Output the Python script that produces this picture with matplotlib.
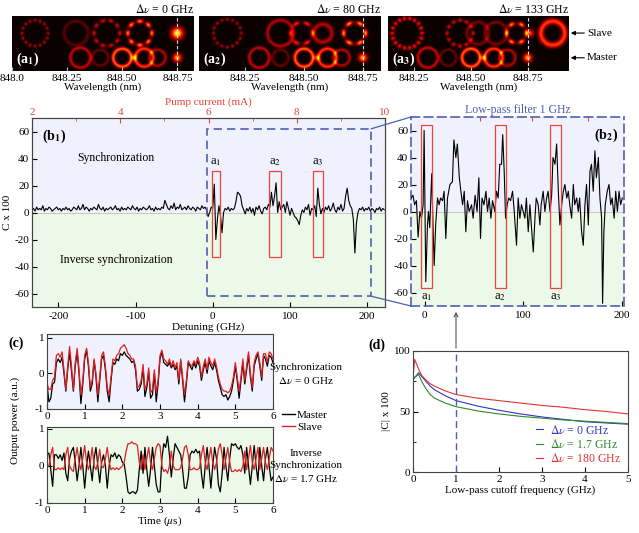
import numpy as np
import matplotlib
matplotlib.use('Agg')
import matplotlib.pyplot as plt
from matplotlib.patches import Rectangle, ConnectionPatch, FancyArrowPatch
from matplotlib.lines import Line2D

plt.rcParams['font.family'] = ['Liberation Serif', 'DejaVu Serif']
plt.rcParams['mathtext.fontset'] = 'stix'
plt.rcParams['font.size'] = 8
plt.rcParams['xtick.direction'] = 'in'
plt.rcParams['ytick.direction'] = 'in'
plt.rcParams['axes.linewidth'] = 0.8
plt.rcParams['axes.edgecolor'] = '#444444'
plt.rcParams['axes.unicode_minus'] = False

LAV = '#f0f1fc'
GRN = '#ecf8e8'
RED = '#e8453c'
BLUE = '#4f5fb0'

# --- (a) mode images: (centre nm, row, radius px, width px, amplitude, lobes)
row_y = {'S': 0.69, 'M': 0.24}
master_modes = [(848.31, 'M', 10, 1.6, 0.45, 0), (848.40, 'M', 8, 1.5, 0.22, 0),
                (848.50, 'M', 9, 1.8, 0.80, 0), (848.555, 'M', 0, 3.0, 0.60, 0),
                (848.60, 'M', 9, 1.8, 0.70, 0), (848.66, 'M', 8, 1.6, 0.40, 0),
                (848.75, 'M', 0, 4.0, 1.00, 0)]
slave_a1 = [(848.104, 'S', 13, 1.6, 0.40, 16), (848.29, 'S', 12, 1.8, 0.18, 0),
            (848.43, 'S', 13, 1.8, 0.50, 10), (848.58, 'S', 12, 2.0, 0.90, 8),
            (848.75, 'S', 0, 5.5, 1.20, 0)]
slave_a2 = [(848.174, 'S', 14, 1.6, 0.40, 16), (848.40, 'S', 13, 1.8, 0.40, 0),
            (848.49, 'S', 11, 1.8, 0.65, 6), (848.58, 'S', 9, 2.2, 0.40, 0),
            (848.715, 'S', 11, 2.0, 0.95, 6)]
slave_a3 = [(848.219, 'S', 15, 2.2, 0.60, 18), (848.452, 'S', 13, 1.8, 0.50, 12),
            (848.53, 'S', 11, 1.8, 0.25, 0), (848.61, 'S', 11, 1.8, 0.25, 0),
            (848.70, 'S', 10, 2.0, 0.90, 6), (848.76, 'S', 0, 3.5, 0.70, 0),
            (848.86, 'S', 12, 2.8, 0.70, 0)]
a_ranges = [(848.0, 848.825), (848.055, 848.826), (848.136, 848.93)]
a_titles = [r'$\Delta\nu$ = 0 GHz', r'$\Delta\nu$ = 80 GHz', r'$\Delta\nu$ = 133 GHz']
a_labels = [r'(a$_\mathbf{1}$)', r'(a$_\mathbf{2}$)', r'(a$_\mathbf{3}$)']
wl_ticks = [848.0, 848.25, 848.5, 848.75]
wl_ticklabels = ['848.0', '848.25', '848.50', '848.75']

# --- (b1) correlation vs detuning, 2 GHz steps from -234 GHz
b1_c = [2, 3, 1, 4, 2, 3, 2, 5, 1, 3, 2, 4, 3, 1, 2, 3, 4, 2, 3, 1,
        3, 2, 4, 2, 3, 1, 2, 4, 3, 2, 5, 2, 3, 6, 2, 4, 3, 1, 3, 2,
        4, 3, 2, 6, 3, 2, 4, 1, 3, 2, 3, 4, 2, 3, 5, 2, 3, 1, 4, 2,
        3, 2, 4, 3, 2, 5, 3, 2, 4, 1, 3, 2, 4, 3, 2, 3, 5, 2, 3, 1,
        4, 2, 3, 2, 4, 3, 9, 6, 3, 2, 5, 3, 7, 2, 4, 3, 6, 2, 3, 4,
        2, 5, 3, 2, 4, 3, 1, 4, 3, 2, 5, 3, 4,
        2, -3, 0, 4, 3, 21, -20, -5, 5, -2, -15, 0, 3, 2, 4, 1, 3, 2, 3, 8,
        15, 14, 12, 5, 2, -1, 3, 1, 4, 0, 3, -2, 4, 2, 5, 1, -1, 3, 4, 2,
        6, 4, 15, 5, 12, 22, 0, 8, 2, 4, 6, 0, 8, 3, -2, 3, 0, -3, -4, -6,
        -9, -2, 2, 0, 4, 2, 6, -2, 3, 2, 5, -3, 18, 6, -1, 3, 0, 4, 2, 5,
        1, 3, 7, 2, 0, 4, 2, 6, 1, 3, 12, 18, 9, 5, 3, -5, -30, -8, 0, 3,
        2, 4, 1, 3, 2, 4, 1, 3, 2, 0, 3, 2, 4, 1, 3, 2]
b1_start = -234
b1_step = 2
b1_boxes = [(-1, 9), (73, 88), (130, 143)]

# --- (b2) low-pass filtered correlation
b2_det = [-14, -12, -10.3, -8.5, -6.8, -5, -3.4, -1.7, -0.7, 1, 2.7, 3.7, 5, 7, 8.5, 9.5,
          11, 12.9, 14.5, 16, 18, 19.6, 21.3, 23, 25.5, 28, 29.5, 31.5, 33, 35, 36.6, 38.3,
          40, 41.6, 43.3, 45, 47.4, 49, 51, 53, 54.8, 56.5, 58, 60, 62, 63.6, 65.3, 67,
          68.7, 71, 72.7, 74.4, 76, 77.8, 79, 80.5, 81.9, 83.6, 85, 87, 89, 90.7, 93, 94.7,
          96.4, 98, 99.8, 101.5, 103, 104.9, 106.6, 108, 110, 111.7, 113, 115, 116.7, 118,
          120, 121.8, 123.5, 125, 127, 128.6, 130, 132, 133.7, 135.4, 137, 138.8, 140.5, 142,
          144, 145.5, 147, 148.9, 150.6, 152, 154, 155.6, 157, 159, 160.7, 162.4, 164, 165.8,
          167.5, 169, 170.8, 172.5, 174, 176, 177.6, 179.3, 180.3, 181.6, 183, 185, 186.8,
          188.5, 190, 192, 193.6, 195.3, 197, 198.6, 200.3]
b2_c = [10, 12, 5, 8, -19, 0, -5, 5, 60, -52, -10, 0, -12, 28, -15, -40,
        -10, 10, 5, 10, 8, 15, -20, 10, 20, 22, 53, 40, 50, 25, 15, 5,
        15, -15, 8, 0, 5, -5, 12, 0, 25, -20, 10, 5, 15, 0, 10, -5,
        8, 0, 15, 10, 35, 35, 57, 30, -5, 5, 10, 8, 15, 0, -25, 10,
        -5, 5, 0, -5, 10, -15, 5, -10, -30, -5, 10, 5, -10, 5,
        15, 0, 10, 15, 0, 12, 40, 35, 50, 15, -10, 5, 15, 20,
        10, 15, 5, -5, 20, 5, 10, 0, 10, -15, -25, 5, 20, -10,
        30, 35, 15, 45, 25, 40, 10, -5, -68, -15, 5, 15, 20,
        5, 10, -5, 15, 0, 15, 5, 10]
b2_boxes = [(-4, 7.5), (71, 82), (127, 138)]

# --- (c) time traces, 0.05 us steps
c_step = 0.05
sync_master = [-0.30, -0.80, -0.70, -0.30, -0.25, 0.30, 0.40, 0.30, 0.45, 0.00,
               -0.50, 0.10, 0.60, 0.05, -0.50, 0.20, 0.60, 0.00, -0.85, -0.30,
               0.40, 0.65, 0.20, -0.50, -0.30, 0.35, -0.10, -0.80, -0.20, 0.40,
               0.50, 0.10, -0.50, -0.80, -0.20, 0.30, 0.25, 0.40, 0.35, 0.55,
               0.50, 0.60, 0.50, 0.45, 0.40, 0.30, 0.35, 0.10, -0.50, -0.45,
               -0.30, 0.15, -0.65, -0.40, 0.05, -0.70, -0.60, 0.00, -0.80, -0.30,
               0.40, 0.60, 0.30, 0.25, 0.20, 0.30, 0.15, 0.25, 0.10, 0.20,
               -0.30, 0.35, -0.20, -0.80, -0.30, 0.30, 0.20, 0.10, 0.30, 0.15,
               0.35, 0.20, -0.20, 0.10, 0.30, 0.00, 0.35, 0.20, 0.10, 0.30,
               0.10, -0.20, -0.40, -0.60, -0.65, -0.60, -0.75, -0.65, -0.50, -0.20,
               0.20, -0.20, -0.70, -0.20, 0.30, -0.30, 0.10, 0.50, -0.10, -0.50,
               0.20, 0.40, 0.55, 0.20, -0.20, 0.50, 0.40, 0.20, 0.50, 0.45, 0.30]
sync_slave = [-0.30, -0.45, -0.45, -0.20, -0.10, 0.50, 0.55, 0.45, 0.60, 0.10,
              -0.45, 0.20, 0.75, 0.20, -0.45, 0.30, 0.70, 0.10, -0.60, -0.20,
              0.50, 0.70, 0.30, -0.40, -0.20, 0.40, 0.00, -0.60, -0.10, 0.50,
              0.60, 0.20, -0.40, -0.60, -0.10, 0.40, 0.35, 0.50, 0.55, 0.70,
              0.75, 0.80, 0.70, 0.55, 0.50, 0.40, 0.40, 0.20, -0.40, -0.35,
              -0.20, 0.25, -0.45, -0.30, 0.15, -0.55, -0.45, 0.10, -0.55, -0.20,
              0.50, 0.65, 0.40, 0.35, 0.25, 0.40, 0.20, 0.35, 0.15, 0.30,
              -0.20, 0.40, -0.10, -0.60, -0.20, 0.35, 0.25, 0.20, 0.35, 0.25,
              0.45, 0.30, -0.10, 0.20, 0.40, 0.10, 0.45, 0.30, 0.20, 0.40,
              0.20, -0.10, -0.30, -0.45, -0.50, -0.50, -0.55, -0.50, -0.35, -0.10,
              0.30, -0.10, -0.50, -0.10, 0.40, -0.20, 0.20, 0.60, 0.00, -0.40,
              0.30, 0.50, 0.60, 0.30, -0.10, 0.55, 0.55, 0.30, 0.60, 0.55, 0.40]
inv_master = [0.30, 0.35, -0.10, -0.55, 0.30, 0.30, 0.20, 0.30, 0.15, 0.35,
              -0.20, -0.40, 0.20, 0.40, 0.50, 0.10, -0.40, 0.00, 0.50, 0.00,
              -0.60, 0.00, 0.40, 0.00, -0.40, 0.20, 0.50, 0.00, -0.45, 0.10,
              0.30, 0.00, -0.60, 0.00, 0.30, 0.25, 0.35, 0.20, 0.30, 0.25,
              0.10, 0.05, -0.30, -0.70, -0.75, -0.70, -0.70, -0.75, -0.65, -0.10,
              0.40, -0.20, 0.50, -0.10, -0.55, -0.10, 0.50, 0.00, -0.50, -0.70,
              -0.70, 0.20, 0.60, 0.50, 0.80, 0.30, -0.30, 0.20, 0.60, 0.50,
              0.40, 0.30, -0.10, -0.60, -0.60, -0.30, 0.30, 0.40, 0.35, 0.45,
              0.35, 0.40, -0.20, -0.60, 0.00, 0.50, 0.00, -0.60, 0.00, 0.50,
              0.20, -0.50, -0.70, -0.20, 0.50, 0.00, -0.40, 0.20, 0.60, 0.55,
              0.60, 0.50, 0.45, 0.55, 0.30, -0.20, 0.50, 0.00, -0.50, 0.00,
              0.55, 0.00, -0.40, 0.50, 0.00, -0.40, 0.20, 0.50, 0.00, -0.40, -0.30]
inv_slave = [0.00, 0.00, 0.30, 0.50, -0.10, -0.10, -0.05, -0.10, -0.05, -0.10,
             0.30, 0.50, 0.00, -0.10, -0.15, 0.20, 0.50, 0.10, -0.10, 0.20,
             0.55, 0.10, -0.10, 0.10, 0.50, 0.00, -0.10, 0.10, 0.45, 0.00,
             -0.05, 0.20, 0.50, 0.10, -0.10, -0.05, -0.10, -0.05, -0.10, -0.05,
             0.00, 0.10, 0.40, 0.60, 0.60, 0.65, 0.60, 0.60, 0.55, 0.10,
             -0.10, 0.30, -0.10, 0.20, 0.50, 0.10, -0.10, 0.20, 0.50, 0.60,
             0.55, 0.00, -0.15, -0.10, -0.20, 0.00, 0.40, 0.00, -0.10, -0.10,
             -0.10, -0.05, 0.20, 0.50, 0.55, 0.30, -0.10, -0.10, -0.05, -0.10,
             -0.10, -0.05, 0.30, 0.55, 0.10, -0.10, 0.20, 0.50, 0.10, -0.10,
             0.10, 0.45, 0.60, 0.30, -0.10, 0.20, 0.50, 0.10, -0.15, -0.15,
             -0.10, -0.15, -0.10, -0.15, 0.00, 0.40, -0.10, 0.20, 0.55, 0.10,
             -0.10, 0.20, 0.50, -0.10, 0.20, 0.50, 0.10, -0.10, 0.20, 0.50, 0.40]

# --- (d) |C| vs low-pass cutoff
d_f = [0, 0.04, 0.13, 0.2, 0.3, 0.4, 0.5, 0.75, 1, 1.5, 2, 2.5, 3, 3.5, 4, 4.5, 5]
d_blue = [76, 78, 82, 79, 75, 71, 68, 63, 59, 54.5, 51, 48, 45.5, 43.5, 41.5, 40.5, 39.5]
d_green = [77, 78.5, 80.5, 75, 69, 64, 61, 57, 54, 50.5, 48, 46, 44.5, 43, 42, 41, 40]
d_red = [78, 93, 85, 80, 76, 73, 71, 67, 64, 61, 59, 57, 55, 53.5, 51.5, 50, 48]
d_labels = [r'$\Delta\nu$ = 0 GHz', r'$\Delta\nu$ = 1.7 GHz', r'$\Delta\nu$ = 180 GHz']
d_colors = ['#3434c8', '#2e8b2e', '#e03434']

W, H = 639, 533


def px_rect(l, t, r, b):
    return [l / W, 1 - b / H, (r - l) / W, (b - t) / H]


fig = plt.figure(figsize=(6.39, 5.33), dpi=100)


# ---------------- (a) mode images
def mode_image(features, lam0, lam1):
    lam = np.linspace(lam0, lam1, 364)
    yy = np.linspace(0, 1, 110)
    L, Y = np.meshgrid(lam, yy)
    nm_px = (lam1 - lam0) / 182
    img = np.zeros_like(L)
    for c, row, r, w, amp, lobes in features:
        dx = (L - c) / nm_px
        dy = (Y - row_y[row]) * 55
        rr = np.hypot(dx, dy)
        part = amp * np.exp(-((rr - r) / w) ** 2)
        if lobes:
            th = np.arctan2(dy, dx)
            part *= 0.15 + 0.85 * np.cos(lobes * th / 2) ** 2
        img += part
    return img


a_px = [(12, 194), (199, 381), (388, 569)]
slaves = [slave_a1, slave_a2, slave_a3]
a_axes = []
for i in range(3):
    l, r = a_px[i]
    ax = fig.add_axes(px_rect(l, 16, r, 71))
    lam0, lam1 = a_ranges[i]
    img = mode_image(slaves[i] + master_modes, lam0, lam1)
    ax.imshow(img, origin='lower', extent=[lam0, lam1, 0, 1], aspect='auto',
              cmap='hot', vmin=0, vmax=1.5, interpolation='bilinear')
    ax.axvline(848.75, color='#dddddd', lw=0.8, ls=(0, (3, 2)))
    ticks = [t for t in wl_ticks if lam0 - 1e-6 <= t <= lam1]
    labels = [wl_ticklabels[wl_ticks.index(t)] for t in ticks]
    ax.set_xticks(ticks)
    ax.set_xticklabels(labels)
    ax.tick_params(axis='x', color='#bbbbbb', length=3, pad=2)
    ax.set_xlim(lam0, lam1)
    ax.set_yticks([])
    for s in ax.spines.values():
        s.set_visible(False)
    ax.set_xlabel('Wavelength (nm)', labelpad=0)
    ax.set_title(a_titles[i], loc='right', pad=1, fontsize=8.5)
    ax.text(0.02, 0.05, a_labels[i], transform=ax.transAxes, color='white',
            fontsize=10, fontweight='bold', va='bottom')
    a_axes.append(ax)

for txt, yf in [('Slave', 0.69), ('Master', 0.24)]:
    a_axes[2].annotate(txt, xy=(1.01, yf), xycoords='axes fraction',
                       xytext=(1.10, yf), textcoords='axes fraction', va='center',
                       arrowprops=dict(arrowstyle='-|>', color='black', lw=0.8,
                                       mutation_scale=6, shrinkA=0, shrinkB=0))

# ---------------- (b1)
ax1 = fig.add_axes(px_rect(32, 118, 385, 307))
ax1.axhspan(0, 70, color=LAV, zorder=0)
ax1.axhspan(-70, 0, color=GRN, zorder=0)
ax1.axhline(0, color='#c0c0c0', lw=0.6, zorder=1)
b1_det = b1_start + b1_step * np.arange(len(b1_c))
ax1.plot(b1_det, b1_c, color='black', lw=0.8, zorder=3)
ax1.set_xlim(-234, 223)
ax1.set_ylim(-70, 70)
ax1.set_yticks([-60, -40, -20, 0, 20, 40, 60])
ax1.set_xticks([-200, -100, 0, 100, 200])
ax1.tick_params(axis='y', pad=2)
ax1.set_xlabel('Detuning (GHz)', labelpad=1)
ax1.set_ylabel('C x 100')
ax1.yaxis.set_label_coords(-0.058, 0.5)
ax1.text(-125, 40, 'Synchronization', ha='center', va='center', fontsize=8.5)
ax1.text(-125, -35, 'Inverse synchronization', ha='center', va='center', fontsize=8.5)
ax1.text(0.028, 0.95, r'(b$_\mathbf{1}$)', transform=ax1.transAxes, fontsize=10,
         fontweight='bold', va='top')
ax1.add_patch(Rectangle((-8, -62), 213, 124, fill=False, ec=BLUE, lw=1.2,
                        ls=(0, (5, 3)), zorder=4))
for k, (x0, x1) in enumerate(b1_boxes):
    ax1.add_patch(Rectangle((x0, -33), x1 - x0, 64, fill=False, ec=RED, lw=0.9, zorder=4))
    ax1.text((x0 + x1) / 2, 33, r'a$_%d$' % (k + 1), ha='center', va='bottom', fontsize=9)
top = ax1.twiny()
top.set_xlim(2, 10)
top.set_xticks([2, 4, 6, 8, 10])
top.set_xticks([3, 5, 7, 9], minor=True)
top.tick_params(axis='x', which='both', colors=RED, direction='in', pad=1)
top.set_xlabel('Pump current (mA)', color=RED, labelpad=2)

# ---------------- (b2)
ax2 = fig.add_axes(px_rect(411, 117, 624, 306))
ax2.axhspan(0, 70, color=LAV, zorder=0)
ax2.axhspan(-70, 0, color=GRN, zorder=0)
ax2.axhline(0, color='#c0c0c0', lw=0.6, zorder=1)
ax2.plot(b2_det, b2_c, color='black', lw=0.8, zorder=3)
ax2.set_xlim(-14, 202)
ax2.set_ylim(-70, 70)
ax2.set_yticks([-60, -40, -20, 0, 20, 40, 60])
ax2.set_xticks([0, 100, 200])
ax2.tick_params(axis='y', pad=2)
for s in ax2.spines.values():
    s.set_edgecolor(BLUE)
    s.set_linestyle((0, (5, 3)))
    s.set_linewidth(1.2)
ax2.set_title('Low-pass filter 1 GHz', color=BLUE, pad=3, fontsize=8.5)
ax2.text(0.97, 0.95, r'(b$_\mathbf{2}$)', transform=ax2.transAxes, fontsize=10,
         fontweight='bold', va='top', ha='right')
for k, (x0, x1) in enumerate(b2_boxes):
    ax2.add_patch(Rectangle((x0, -57), x1 - x0, 121, fill=False, ec=RED, lw=0.9, zorder=4))
    ax2.text((x0 + x1) / 2, -59, r'a$_%d$' % (k + 1), ha='center', va='top', fontsize=9)
top2 = ax2.twiny()
top2.set_xlim(ax2.get_xlim())
top2.set_xticks([56, 109, 165])
top2.set_xticklabels([])
top2.tick_params(axis='x', colors=RED, direction='in', length=3)
for s in top2.spines.values():
    s.set_visible(False)

for xa, ya, yb in [(205, 62, 1), (205, -62, 0)]:
    con = ConnectionPatch(xyA=(xa, ya), coordsA=ax1.transData,
                          xyB=(0, yb), coordsB=ax2.transAxes, color=BLUE, lw=0.9)
    fig.add_artist(con)

# ---------------- (c)
t = c_step * np.arange(len(sync_master))
axc1 = fig.add_axes(px_rect(47, 334, 273, 409))
axc2 = fig.add_axes(px_rect(47, 427, 273, 503))
for ax, m, s, bg, yl in [(axc1, sync_master, sync_slave, LAV, (-1, 1.1)),
                         (axc2, inv_master, inv_slave, GRN, (-1, 1.05))]:
    ax.set_facecolor(bg)
    ax.plot(t, m, color='black', lw=0.9)
    ax.plot(t, s, color='#e02020', lw=0.9)
    ax.set_xlim(0, 6)
    ax.set_ylim(*yl)
    ax.set_yticks([-1, 0, 1])
    ax.set_xticks(range(7))
    ax.tick_params(pad=2)
axc2.set_xlabel(r'Time ($\mu$s)', labelpad=0)
fig.text(15 / W, 1 - 420 / H, 'Output power (a.u.)', rotation=90, ha='center', va='center')
fig.text(8 / W, 1 - 343 / H, '(c)', fontsize=10, fontweight='bold', va='center')
fig.text(306 / W, 1 - 367 / H, 'Synchronization', ha='center', va='center')
fig.text(306 / W, 1 - 380 / H, r'$\Delta\nu$ = 0 GHz', ha='center', va='center')
fig.text(306 / W, 1 - 453 / H, 'Inverse', ha='center', va='center')
fig.text(306 / W, 1 - 466 / H, 'Synchronization', ha='center', va='center')
fig.text(306 / W, 1 - 479 / H, r'$\Delta\nu$ = 1.7 GHz', ha='center', va='center')
fig.legend([Line2D([], [], color='black', lw=1), Line2D([], [], color='#e02020', lw=1)],
           ['Master', 'Slave'], loc='center left', bbox_to_anchor=(276 / W, 1 - 421 / H),
           frameon=False, handlelength=1.2, handletextpad=0.2, labelspacing=0.25,
           borderpad=0, fontsize=8)

# ---------------- (d)
axd = fig.add_axes(px_rect(413, 351, 628, 472))
for vals, col, lab in zip([d_blue, d_green, d_red], d_colors, d_labels):
    axd.plot(d_f, vals, color=col, lw=0.8, label=lab)
axd.axvline(1, color=BLUE, lw=1.0, ls=(0, (5, 3)))
axd.set_xlim(0, 5)
axd.set_ylim(0, 100)
axd.set_yticks([0, 50, 100])
axd.set_yticks([25, 75], minor=True)
axd.tick_params(which='both', direction='in', pad=2)
axd.set_xlabel('Low-pass cutoff frequency (GHz)', labelpad=1)
axd.set_ylabel('|C| x 100', labelpad=2)
leg = axd.legend(loc='lower right', frameon=False, handlelength=0.6, handletextpad=0.6,
                 labelspacing=0.1, borderpad=0.1, labelcolor='linecolor', fontsize=8.5)
fig.text(368 / W, 1 - 345 / H, '(d)', fontsize=10, fontweight='bold', va='center')

arrow = FancyArrowPatch((456 / W, 1 - 351 / H), (456 / W, 1 - 309 / H),
                        transform=fig.transFigure, arrowstyle='->', color='#555555',
                        lw=0.8, mutation_scale=7)
fig.add_artist(arrow)

fig.savefig('out.png', dpi=100)
